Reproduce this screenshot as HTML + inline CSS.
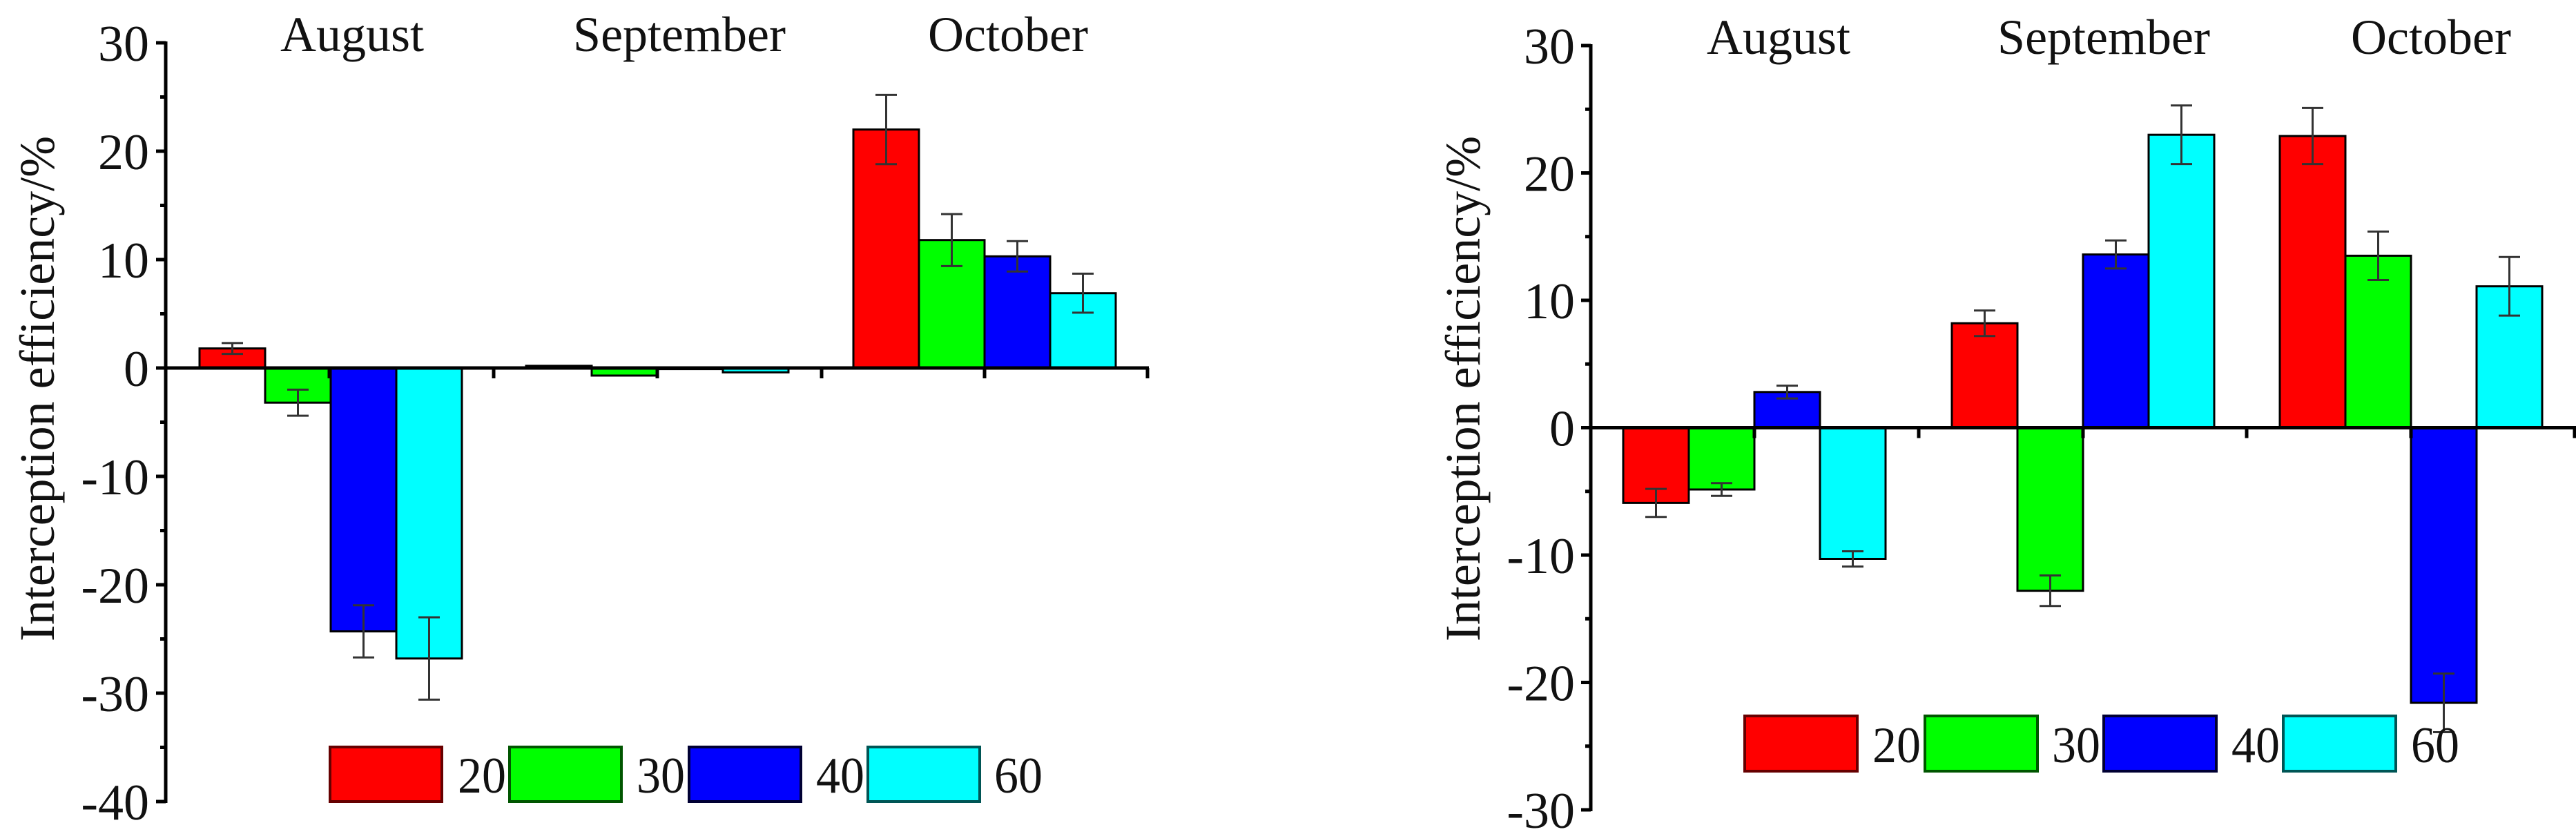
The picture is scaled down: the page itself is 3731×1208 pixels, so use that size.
<!DOCTYPE html>
<html><head><meta charset="utf-8"><style>
html,body{margin:0;padding:0;background:#fff;}
svg{display:block;}
text{font-family:"Liberation Serif",serif;fill:#111;}
</style></head><body>
<svg width="3731" height="1208" viewBox="0 0 3731 1208" xmlns="http://www.w3.org/2000/svg">
<rect width="3731" height="1208" fill="#fff"/>
<!-- LEFT CHART -->
<g stroke="#000" stroke-width="3">
<rect x="289" y="504.7" width="95" height="28.3" fill="#ff0000"/>
<rect x="384" y="533" width="95" height="50.2" fill="#00ff00"/>
<rect x="479" y="533" width="95" height="381.5" fill="#0000ff"/>
<rect x="574" y="533" width="95" height="420.8" fill="#00ffff"/>
<rect x="762" y="529.9" width="95" height="3.1" fill="#ff0000"/>
<rect x="857" y="533" width="95" height="11" fill="#00ff00"/>
<rect x="952" y="533" width="95" height="1.6" fill="#0000ff"/>
<rect x="1047" y="533" width="95" height="6.3" fill="#00ffff"/>
<rect x="1236" y="187.6" width="95" height="345.4" fill="#ff0000"/>
<rect x="1331" y="347.7" width="95" height="185.3" fill="#00ff00"/>
<rect x="1426" y="371.3" width="95" height="161.7" fill="#0000ff"/>
<rect x="1521" y="424.7" width="95" height="108.3" fill="#00ffff"/>
</g>
<g stroke="#333" stroke-width="3" fill="none">
<path d="M336.5 512.6V496.9M321 512.6h31M321 496.9h31"/>
<path d="M431.5 564.4V602.1M416 564.4h31M416 602.1h31"/>
<path d="M526.5 876.8V952.2M511 876.8h31M511 952.2h31"/>
<path d="M621.5 894.1V1013.4M606 894.1h31M606 1013.4h31"/>
<path d="M1283.5 237.8V137.4M1268 237.8h31M1268 137.4h31"/>
<path d="M1378.5 385.4V310.1M1363 385.4h31M1363 310.1h31"/>
<path d="M1473.5 393.3V349.3M1458 393.3h31M1458 349.3h31"/>
<path d="M1568.5 452.9V396.4M1553 452.9h31M1553 396.4h31"/>
</g>
<g stroke="#000" stroke-width="5" fill="none">
<path d="M240 60V1163"/>
<path d="M238 533H1664"/>
<path d="M226 62h14M226 219h14M226 376h14M226 533h14M226 690h14M226 847h14M226 1004h14M226 1161h14"/>
<path d="M232 140.5h8M232 297.5h8M232 454.5h8M232 611.5h8M232 768.5h8M232 925.5h8M232 1082.5h8"/>
<path d="M477 533v15M715 533v15M952 533v15M1190 533v15M1426 533v15M1662 533v15"/>
</g>
<g font-size="74" text-anchor="end">
<text x="216" y="88">30</text>
<text x="216" y="245">20</text>
<text x="216" y="402">10</text>
<text x="216" y="559">0</text>
<text x="216" y="716">-10</text>
<text x="216" y="873">-20</text>
<text x="216" y="1030">-30</text>
<text x="216" y="1187">-40</text>
</g>
<g font-size="72" text-anchor="middle">
<text x="510" y="74">August</text>
<text x="984" y="74">September</text>
<text x="1460" y="74">October</text>
</g>
<text font-size="72" text-anchor="middle" transform="translate(78,563) rotate(-90)">Interception efficiency/%</text>
<g stroke="#000" stroke-width="4">
<rect x="478" y="1082" width="162" height="79" fill="#ff0000" stroke="#600"/>
<rect x="738" y="1082" width="162" height="79" fill="#00ff00" stroke="#050"/>
<rect x="998" y="1082" width="162" height="79" fill="#0000ff" stroke="#003"/>
<rect x="1257" y="1082" width="162" height="79" fill="#00ffff" stroke="#055"/>
</g>
<g font-size="74">
<text x="663" y="1148" textLength="70" lengthAdjust="spacingAndGlyphs">20</text>
<text x="922" y="1148" textLength="70" lengthAdjust="spacingAndGlyphs">30</text>
<text x="1182" y="1148" textLength="70" lengthAdjust="spacingAndGlyphs">40</text>
<text x="1440" y="1148" textLength="70" lengthAdjust="spacingAndGlyphs">60</text>
</g>

<!-- RIGHT CHART -->
<g stroke="#000" stroke-width="3">
<rect x="2351" y="619.5" width="95" height="108.9" fill="#ff0000"/>
<rect x="2446" y="619.5" width="95" height="89.5" fill="#00ff00"/>
<rect x="2541" y="567.8" width="95" height="51.7" fill="#0000ff"/>
<rect x="2636" y="619.5" width="95" height="190" fill="#00ffff"/>
<rect x="2827" y="468.2" width="95" height="151.3" fill="#ff0000"/>
<rect x="2922" y="619.5" width="95" height="236.2" fill="#00ff00"/>
<rect x="3017" y="368.6" width="95" height="250.9" fill="#0000ff"/>
<rect x="3112" y="195.2" width="95" height="424.3" fill="#00ffff"/>
<rect x="3302" y="197" width="95" height="422.5" fill="#ff0000"/>
<rect x="3397" y="370.4" width="95" height="249.1" fill="#00ff00"/>
<rect x="3492" y="619.5" width="95" height="398.5" fill="#0000ff"/>
<rect x="3587" y="414.7" width="95" height="204.8" fill="#00ffff"/>
</g>
<g stroke="#333" stroke-width="3" fill="none">
<path d="M2398.5 708.1V748.7M2383 708.1h31M2383 748.7h31"/>
<path d="M2493.5 699.8V718.2M2478 699.8h31M2478 718.2h31"/>
<path d="M2588.5 577.1V558.6M2573 577.1h31M2573 558.6h31"/>
<path d="M2683.5 798.5V820.6M2668 798.5h31M2668 820.6h31"/>
<path d="M2874.5 486.7V449.8M2859 486.7h31M2859 449.8h31"/>
<path d="M2969.5 833.5V877.8M2954 833.5h31M2954 877.8h31"/>
<path d="M3064.5 388.9V348.3M3049 388.9h31M3049 348.3h31"/>
<path d="M3159.5 237.6V152.7M3144 237.6h31M3144 152.7h31"/>
<path d="M3349.5 237.6V156.4M3334 237.6h31M3334 156.4h31"/>
<path d="M3444.5 405.5V335.4M3429 405.5h31M3429 335.4h31"/>
<path d="M3539.5 975.6V1060.5M3524 975.6h31M3524 1060.5h31"/>
<path d="M3634.5 457.1V372.3M3619 457.1h31M3619 372.3h31"/>
</g>
<g stroke="#000" stroke-width="5" fill="none">
<path d="M2304 64V1175"/>
<path d="M2302 619.5H3731"/>
<path d="M2290 66h14M2290 250.5h14M2290 435h14M2290 619.5h14M2290 804h14M2290 988.5h14M2290 1173h14"/>
<path d="M2296 158.3h8M2296 342.8h8M2296 527.3h8M2296 711.8h8M2296 896.3h8M2296 1080.8h8"/>
<path d="M2541 619.5v15M2779 619.5v15M3017 619.5v15M3254 619.5v15M3492 619.5v15M3729 619.5v15"/>
</g>
<g font-size="74" text-anchor="end">
<text x="2281" y="92">30</text>
<text x="2281" y="276.5">20</text>
<text x="2281" y="461">10</text>
<text x="2281" y="645.5">0</text>
<text x="2281" y="830">-10</text>
<text x="2281" y="1014.5">-20</text>
<text x="2281" y="1199">-30</text>
</g>
<g font-size="72" text-anchor="middle">
<text x="2576" y="78">August</text>
<text x="3047" y="78">September</text>
<text x="3521" y="78">October</text>
</g>
<text font-size="72" text-anchor="middle" transform="translate(2143,563) rotate(-90)">Interception efficiency/%</text>
<g stroke="#000" stroke-width="4">
<rect x="2527" y="1037" width="163" height="80" fill="#ff0000" stroke="#600"/>
<rect x="2788" y="1037" width="163" height="80" fill="#00ff00" stroke="#050"/>
<rect x="3047" y="1037" width="163" height="80" fill="#0000ff" stroke="#003"/>
<rect x="3307" y="1037" width="163" height="80" fill="#00ffff" stroke="#055"/>
</g>
<g font-size="74">
<text x="2712" y="1104" textLength="70" lengthAdjust="spacingAndGlyphs">20</text>
<text x="2972" y="1104" textLength="70" lengthAdjust="spacingAndGlyphs">30</text>
<text x="3232" y="1104" textLength="70" lengthAdjust="spacingAndGlyphs">40</text>
<text x="3492" y="1104" textLength="70" lengthAdjust="spacingAndGlyphs">60</text>
</g>
</svg>
</body></html>
